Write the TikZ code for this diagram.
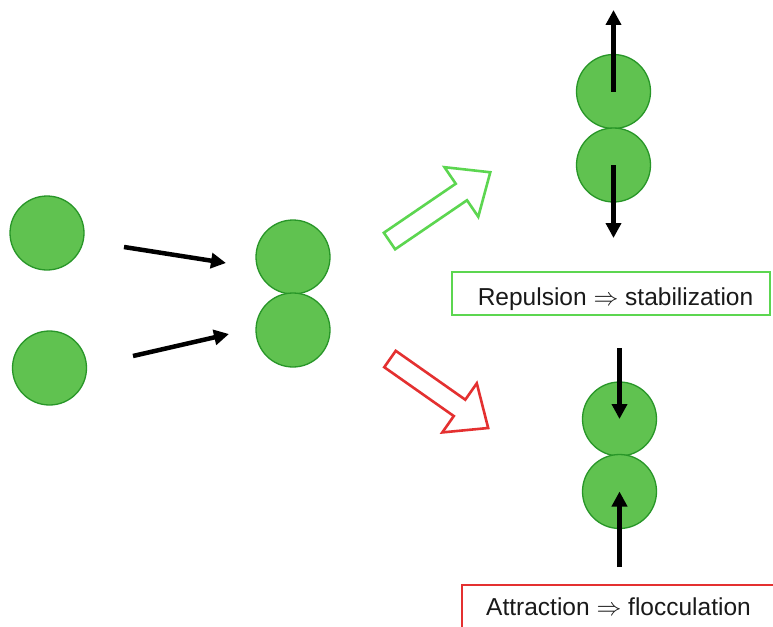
\documentclass[tikz,border=0pt]{standalone}
\usepackage{fontspec}
\setmainfont{Liberation Sans}
\usetikzlibrary{arrows.meta}

\definecolor{ballfill}{RGB}{96,194,80}
\definecolor{balledge}{RGB}{40,150,40}
\definecolor{goodgreen}{RGB}{92,214,80}
\definecolor{badred}{RGB}{228,48,48}
\definecolor{textdark}{RGB}{25,25,25}

\tikzset{
  ball/.style={circle, minimum size=74pt, inner sep=0pt, fill=ballfill, draw=balledge, line width=1.3pt},
  force/.style={line width=4.5pt, -{Triangle[length=15pt,width=15pt]}, black},
  fatarrow/.style={line width=2.6pt, line join=miter, fill=white},
  labelbox/.style={line width=2.4pt},
  caption/.style={font=\fontsize{24.5}{29}\selectfont, text=textdark, anchor=base, inner sep=0pt}
}

\begin{document}
\begin{tikzpicture}[x=1pt, y=-1pt]
  \useasboundingbox (0,0) rectangle (773,626);
  \clip (0,0) rectangle (773,626);
  \fill[white] (0,0) rectangle (773,626);

  % two separate particles
  \node[ball] (p1) at (47,233) {};
  \node[ball] (p2) at (49.5,368) {};

  % the approaching pair
  \node[ball] (m1) at (293,257) {};
  \node[ball] (m2) at (293,330) {};

  % approach arrows
  \coordinate (a1s) at (124,247);
  \coordinate (a1e) at (226,263);
  \coordinate (a2s) at (133,356);
  \coordinate (a2e) at (229,334);
  \draw[force] (a1s) -- (a1e);
  \draw[force] (a2s) -- (a2e);

  % outcome arrows
  \begin{scope}[shift={(389.5,241)}, rotate=34.3]
    \draw[fatarrow, draw=goodgreen] (0,-10) -- (87,-10) -- (87,-30) -- (122,0) -- (87,30) -- (87,10) -- (0,10) -- cycle;
  \end{scope}
  \begin{scope}[shift={(390,359)}, rotate=-35.1]
    \draw[fatarrow, draw=badred] (0,-10) -- (85,-10) -- (85,-30) -- (120,0) -- (85,30) -- (85,10) -- (0,10) -- cycle;
  \end{scope}

  % repelling pair
  \node[ball] (r1) at (613.5,91.5) {};
  \node[ball] (r2) at (613.5,165) {};
  \coordinate (rup) at (613.5,10);
  \coordinate (rdown) at (613.5,238);
  \draw[force] (r1.center) -- (rup);
  \draw[force] (r2.center) -- (rdown);

  \coordinate (gb1) at (452,272);
  \coordinate (gb2) at (770,315);
  \draw[labelbox, draw=goodgreen] (gb1) rectangle (gb2);
  \node[caption] (rep) at (615.5,305) {Repulsion $\Rightarrow$ stabilization};

  % attracting pair
  \node[ball] (f1) at (619.5,419) {};
  \node[ball] (f2) at (619.5,491.5) {};
  \coordinate (fin1) at (619.5,348);
  \coordinate (fin2) at (619.5,567);
  \draw[force] (fin1) -- (f1.center);
  \draw[force] (fin2) -- (f2.center);

  \coordinate (rb1) at (462,585);
  \coordinate (rb2) at (790,650);
  \draw[labelbox, draw=badred] (rb1) rectangle (rb2);
  \node[caption] (att) at (618.5,615) {Attraction $\Rightarrow$ flocculation};
\end{tikzpicture}
\end{document}
